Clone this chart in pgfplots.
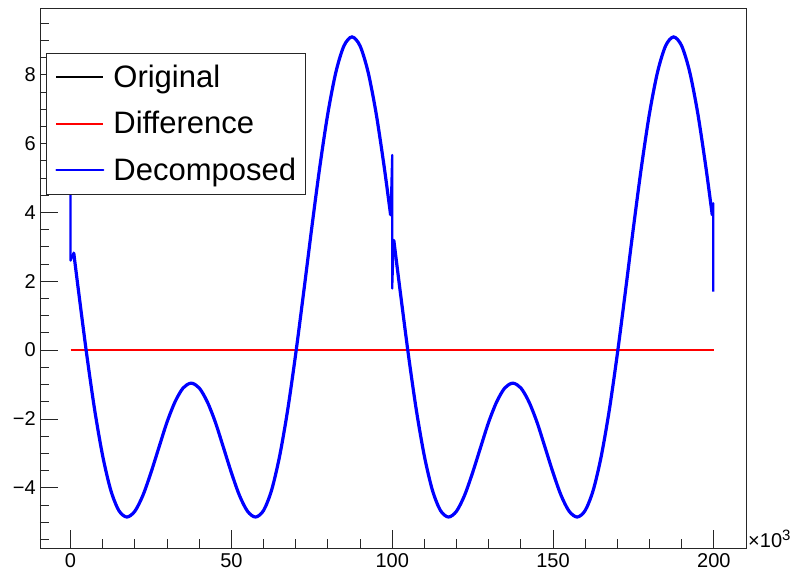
\documentclass[border=0pt]{standalone}
\usepackage{fontspec}
\setmainfont{Liberation Sans}
\usepackage{pgfplots}
\usepackage{pgfplotstable}
\pgfplotsset{compat=1.18}

% sharp boundary artefacts
\pgfplotstableread{
x y
0 4.9
0 2.6
1 2.82
}\spikeA
\pgfplotstableread{
x y
99.5 3.93
100 5.67
100 1.79
100.5 3.19
}\spikeB
\pgfplotstableread{
x y
199.5 3.93
199.8 4.27
199.8 1.70
}\spikeC
% smooth parts
\pgfplotstableread{
x y
1 2.82
2.5 1.70
5 -0.11
7.5 -1.74
10 -3.08
12.5 -4.07
15 -4.66
17.5 -4.85
20 -4.68
22.5 -4.22
25 -3.56
27.5 -2.82
30 -2.09
32.5 -1.50
35 -1.10
37.5 -0.96
40 -1.10
42.5 -1.50
45 -2.09
47.5 -2.82
50 -3.56
52.5 -4.22
55 -4.68
57.5 -4.85
60 -4.66
62.5 -4.07
65 -3.08
67.5 -1.74
70 -0.11
72.5 1.70
75 3.56
77.5 5.33
80 6.88
82.5 8.08
85 8.84
87.5 9.10
90 8.84
92.5 8.08
95 6.88
97.5 5.33
99.5 3.93
}\partA
\pgfplotstableread{
x y
100.5 3.19
102.5 1.70
105 -0.11
107.5 -1.74
110 -3.08
112.5 -4.07
115 -4.66
117.5 -4.85
120 -4.68
122.5 -4.22
125 -3.56
127.5 -2.82
130 -2.09
132.5 -1.50
135 -1.10
137.5 -0.96
140 -1.10
142.5 -1.50
145 -2.09
147.5 -2.82
150 -3.56
152.5 -4.22
155 -4.68
157.5 -4.85
160 -4.66
162.5 -4.07
165 -3.08
167.5 -1.74
170 -0.11
172.5 1.70
175 3.56
177.5 5.33
180 6.88
182.5 8.08
185 8.84
187.5 9.10
190 8.84
192.5 8.08
195 6.88
197.5 5.33
199.5 3.93
}\partB

\pgfplotstableread{
x y
0 0
200 0
}\diff

\begin{document}
\begin{tikzpicture}
\useasboundingbox (-40pt,-22pt) rectangle (754pt,548pt);
\begin{axis}[
  name=ax,
  at={(0,0)}, anchor=south west,
  scale only axis, width=706pt, height=540pt,
  xmin=-9.5, xmax=210, ymin=-5.75, ymax=9.94,
  axis line style={black!85, line width=0.8pt},
  tick align=inside, xtick pos=bottom, ytick pos=left,
  xtick={0,50,100,150,200}, xticklabels={0,50,100,150,200},
  minor xtick={10,20,30,40,60,70,80,90,110,120,130,140,160,170,180,190},
  ytick={-4,-2,0,2,4,6,8}, yticklabels={−4,−2,0,2,4,6,8},
  minor ytick={-5.5,-5,-4.5,-3.5,-3,-2.5,-1.5,-1,-0.5,0.5,1,1.5,2.5,3,3.5,4.5,5,5.5,6.5,7,7.5,8.5,9,9.5},
  major tick length=18pt, minor tick length=9pt,
  every tick/.style={black!85, line width=0.8pt},
  tick label style={font=\fontsize{20}{24}\selectfont},
  xticklabel style={inner sep=0pt, yshift=-5pt},
  yticklabel style={inner sep=0pt, xshift=-4pt},
  legend cell align=left,
  legend style={at={(0.0085,0.9167)}, anchor=north west,
    draw=black!85, line width=0.8pt, fill=white,
    font=\fontsize{31}{36}\selectfont,
    inner xsep=9pt, inner ysep=10pt, row sep=18.5pt, column sep=9pt,
    nodes={inner sep=0pt, text height=24pt, text depth=4pt}},
  legend image code/.code={\draw[#1, line width=2pt] (0pt,0pt) -- (47pt,0pt);},
]
\addplot[black, line width=1pt, smooth, tension=0.5] table[x=x,y=y] {\partA};
\addlegendentry{Original}
\addplot[red, line width=2.2pt] table[x=x,y=y] {\diff};
\addlegendentry{Difference}
\addplot[blue, line width=3.2pt, smooth, tension=0.5, line cap=round] table[x=x,y=y] {\partA};
\addlegendentry{Decomposed\hspace{6pt}}
\addplot[forget plot, blue, line width=3.2pt, smooth, tension=0.5, line cap=round] table[x=x,y=y] {\partB};
\addplot[forget plot, blue, line width=2.2pt, line join=round] table[x=x,y=y] {\spikeA};
\addplot[forget plot, blue, line width=2.2pt, line join=round] table[x=x,y=y] {\spikeB};
\addplot[forget plot, blue, line width=2.2pt, line join=round] table[x=x,y=y] {\spikeC};
\end{axis}
\node[anchor=base west, inner sep=0pt, font=\fontsize{20}{24}\selectfont] at ([xshift=2pt,yshift=1pt]ax.south east) {×10\raisebox{7pt}{\fontsize{15}{15}\selectfont 3}};
\end{tikzpicture}
\end{document}
